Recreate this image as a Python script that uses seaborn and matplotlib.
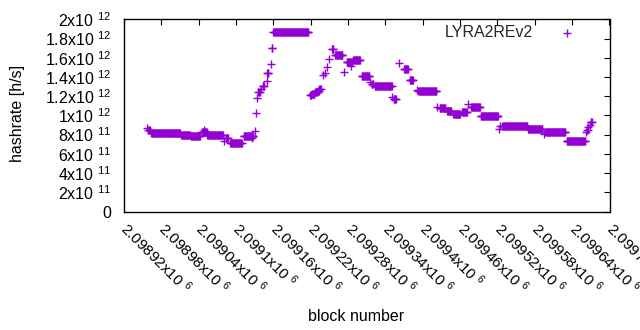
import numpy as np
import pandas as pd
import matplotlib
matplotlib.use("Agg")
import matplotlib.pyplot as plt
import seaborn as sns

# Piecewise-constant hashrate readings (block range start, end, hashrate in h/s)
seg_start = [2098957, 2098959, 2098964, 2099012, 2099027, 2099045, 2099048, 2099054,
             2099081, 2099084, 2099091, 2099112, 2099125, 2099130, 2099132, 2099134,
             2099136, 2099140, 2099143, 2099149, 2099150, 2099156, 2099157, 2099160,
             2099219, 2099222, 2099227, 2099231, 2099234, 2099240, 2099243, 2099246,
             2099250, 2099254, 2099259, 2099274, 2099278, 2099285, 2099288, 2099302,
             2099316, 2099318, 2099323, 2099351, 2099353, 2099362, 2099370, 2099379,
             2099390, 2099393, 2099423, 2099427, 2099439, 2099449, 2099463, 2099473,
             2099478, 2099493, 2099522, 2099524, 2099528, 2099569, 2099594, 2099597,
             2099631, 2099663, 2099664, 2099666, 2099668, 2099670]
seg_end = [2098957, 2098961, 2099010, 2099026, 2099042, 2099053, 2099048, 2099079,
           2099081, 2099087, 2099109, 2099128, 2099125, 2099130, 2099132, 2099134,
           2099138, 2099140, 2099145, 2099149, 2099152, 2099156, 2099158, 2099216,
           2099221, 2099226, 2099230, 2099233, 2099236, 2099240, 2099243, 2099246,
           2099250, 2099256, 2099271, 2099274, 2099287, 2099285, 2099299, 2099314,
           2099316, 2099320, 2099350, 2099351, 2099357, 2099362, 2099376, 2099384,
           2099390, 2099422, 2099423, 2099436, 2099446, 2099460, 2099471, 2099473,
           2099492, 2099521, 2099522, 2099524, 2099568, 2099592, 2099594, 2099629,
           2099661, 2099663, 2099665, 2099666, 2099668, 2099672]
seg_value = [8.7e11, 8.5e11, 8.15e11, 8.0e11, 7.85e11, 8.3e11, 8.5e11, 7.97e11,
             7.3e11, 7.6e11, 7.1e11, 7.87e11, 7.6e11, 8.4e11, 1.02e12, 1.18e12,
             1.24e12, 1.275e12, 1.31e12, 1.36e12, 1.44e12, 1.54e12, 1.70e12, 1.865e12,
             1.215e12, 1.225e12, 1.24e12, 1.255e12, 1.27e12, 1.42e12, 1.445e12, 1.50e12,
             1.585e12, 1.69e12, 1.63e12, 1.455e12, 1.555e12, 1.51e12, 1.575e12, 1.41e12,
             1.35e12, 1.33e12, 1.307e12, 1.195e12, 1.17e12, 1.55e12, 1.48e12, 1.37e12,
             1.265e12, 1.255e12, 1.09e12, 1.08e12, 1.05e12, 1.01e12, 1.033e12, 1.12e12,
             1.085e12, 0.995e12, 8.56e11, 8.88e11, 8.94e11, 8.56e11, 8.05e11, 8.32e11,
             7.3e11, 8.25e11, 8.5e11, 8.84e11, 9.0e11, 9.3e11]

x_ticks = [2098920 + 60 * k for k in range(14)]
y_ticks = [0, 2e11, 4e11, 6e11, 8e11, 1e12, 1.2e12, 1.4e12, 1.6e12, 1.8e12, 2e12]
y_mant = ["0", "2", "4", "6", "8", "1", "1.2", "1.4", "1.6", "1.8", "2"]
y_exp = [None, 11, 11, 11, 11, 12, 12, 12, 12, 12, 12]
series_name = "LYRA2REv2"


def sci(m, e):
    if e is None:
        return m
    return r"$\mathregular{%sx10\ }^{%d}$" % (m, e)


y_tick_labels = [sci(m, e) for m, e in zip(y_mant, y_exp)]
x_tick_labels = [sci("%g" % (v / 1e6), 6) for v in x_ticks]

blocks, rates = [], []
for s, e, v in zip(seg_start, seg_end, seg_value):
    for b in range(s, e + 1):
        blocks.append(b)
        rates.append(v)
df = pd.DataFrame({"block": blocks, "hashrate": rates})

sns.set_theme(style="white")
plt.rcParams["font.family"] = ["Liberation Sans", "DejaVu Sans"]
plt.rcParams["mathtext.fontset"] = "custom"
plt.rcParams["mathtext.rm"] = "Liberation Sans"
plt.rcParams["mathtext.it"] = "Liberation Sans"
plt.rcParams["mathtext.bf"] = "Liberation Sans"

fig = plt.figure(figsize=(6.4, 3.3), dpi=100)
ax = fig.add_axes([124 / 640, 1 - 211.5 / 330, 485.5 / 640, 192.2 / 330])

sns.scatterplot(data=df, x="block", y="hashrate", marker="+", color="#9400d3",
                s=26, linewidth=1.0, ax=ax, label=series_name)

ax.set_xlim(2098920, 2099700)
ax.set_ylim(0, 2e12)
ax.set_xticks(x_ticks)
ax.set_xticklabels(x_tick_labels)
ax.set_yticks(y_ticks)
ax.set_yticklabels(y_tick_labels)

fs = 11.5
ax.tick_params(direction="in", length=4, width=0.8, top=True, right=True,
               labelsize=fs, colors="black")
ax.tick_params(axis="y", pad=9)
ax.tick_params(axis="x", pad=10, labelsize=11)
for t in ax.get_xticklabels():
    t.set_rotation(-45)
    t.set_ha("left")
    t.set_va("center")
    t.set_rotation_mode("anchor")

for sp in ax.spines.values():
    sp.set_color("black")
    sp.set_linewidth(1.0)
    sp.set_visible(True)

ax.set_xlabel("block number", fontsize=fs, color="black")
ax.set_ylabel("hashrate [h/s]", fontsize=fs, color="black")
ax.xaxis.set_label_coords(0.4776, -0.546)
ax.xaxis.label.set_va("center")
ax.yaxis.set_label_coords(-0.219, 0.508)
ax.yaxis.label.set_va("center")

ax.legend(loc="center right", bbox_to_anchor=(0.945, 0.932), frameon=False,
          markerfirst=False, borderaxespad=0, borderpad=0, handlelength=2.0,
          handletextpad=1.1, fontsize=fs)

fig.savefig("out.png", dpi=100)
